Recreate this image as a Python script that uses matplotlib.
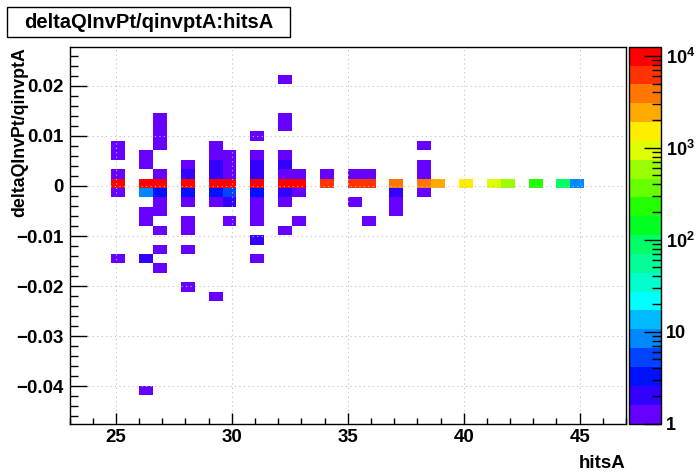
import numpy as np
import matplotlib.pyplot as plt
from matplotlib.colors import ListedColormap, LogNorm
from matplotlib.patches import Rectangle
from matplotlib.ticker import MultipleLocator, LogLocator, NullFormatter, FuncFormatter

plt.rcParams['font.family'] = ['Liberation Sans', 'DejaVu Sans']
plt.rcParams['font.weight'] = 'bold'
plt.rcParams['mathtext.fontset'] = 'custom'
plt.rcParams['mathtext.rm'] = 'Liberation Sans:bold'
plt.rcParams['mathtext.it'] = 'Liberation Sans:bold'
plt.rcParams['mathtext.bf'] = 'Liberation Sans:bold'

# filled cells of the 2D histogram: hitsA, deltaQInvPt/qinvptA, entries
hits = [25, 25, 25, 25, 25, 25,
        26, 26, 26, 26, 26, 26, 26, 26,
        27, 27, 27, 27, 27, 27, 27, 27, 27, 27, 27, 27,
        28, 28, 28, 28, 28, 28, 28, 28, 28,
        29, 29, 29, 29, 29, 29, 29, 29,
        30, 30, 30, 30, 30, 30, 30,
        31, 31, 31, 31, 31, 31, 31, 31, 31, 31, 31,
        32, 32, 32, 32, 32, 32, 32, 32, 32, 32,
        33, 33, 33, 33,
        34, 34,
        35, 35, 35,
        36, 36, 36,
        37, 37, 37, 37,
        38, 38, 38, 38, 38,
        39, 40, 41, 42, 43, 44, 45]
dqinv = [0.0081, 0.0062, 0.0024, 0.0005, -0.0013, -0.0145,
         0.0062, 0.0043, 0.0005, -0.0013, -0.0051, -0.0070, -0.0145, -0.0408,
         0.0138, 0.0118, 0.0099, 0.0081, 0.0024, 0.0005, -0.0013, -0.0032, -0.0051, -0.0089, -0.0126, -0.0164,
         0.0043, 0.0024, 0.0005, -0.0013, -0.0032, -0.0070, -0.0089, -0.0126, -0.0201,
         0.0081, 0.0062, 0.0043, 0.0024, 0.0005, -0.0013, -0.0032, -0.0220,
         0.0062, 0.0043, 0.0024, 0.0005, -0.0013, -0.0032, -0.0070,
         0.0099, 0.0062, 0.0043, 0.0024, 0.0005, -0.0013, -0.0032, -0.0051, -0.0070, -0.0107, -0.0145,
         0.0212, 0.0138, 0.0118, 0.0062, 0.0043, 0.0024, 0.0005, -0.0013, -0.0032, -0.0089,
         0.0024, 0.0005, -0.0013, -0.0070,
         0.0024, 0.0005,
         0.0024, 0.0005, -0.0032,
         0.0024, 0.0005, -0.0070,
         0.0005, -0.0013, -0.0032, -0.0051,
         0.0081, 0.0043, 0.0024, 0.0005, -0.0013,
         0.0005, 0.0005, 0.0005, 0.0005, 0.0005, 0.0005, 0.0005]
entries = [1, 1, 1, 10500, 1, 1,
           1, 1, 11000, 8, 1, 1, 2, 1,
           1, 1, 1, 1, 1, 11500, 3, 1, 1, 1, 1, 1,
           1, 2, 11000, 3, 1, 1, 1, 1, 1,
           1, 1, 2, 2, 11000, 3, 1, 1,
           1, 1, 1, 11000, 5, 2, 1,
           1, 1, 2, 2, 11000, 3, 1, 1, 1, 2, 1,
           1, 1, 1, 1, 2, 1, 10500, 2, 1, 1,
           1, 9500, 1, 1,
           1, 6000,
           1, 6500, 1,
           1, 6000, 1,
           4000, 2, 1, 1,
           1, 1, 1, 3800, 1,
           2400, 1500, 950, 600, 230, 90, 8]

palette = ['#6600ff', '#3300ff', '#0011ff', '#0044ff', '#0088ff',
           '#00bbff', '#00ffff', '#00ffcc', '#00ff99', '#00ff66',
           '#00ff22', '#22ff00', '#66ff00', '#99ff00', '#ddff00',
           '#ffee00', '#ffaa00', '#ff7700', '#ff3300', '#ff0000']

x_edges = np.round(np.linspace(23, 47, 41), 6)
y_edges = np.round(np.linspace(-0.0474, 0.0278, 41), 6)

fig = plt.figure(figsize=(6.96, 4.72), dpi=100)
ax = fig.add_axes([69.5 / 696, 48.5 / 472, 556.5 / 696, 376.8 / 472])
cax = fig.add_axes([629 / 696, 48.5 / 472, 32 / 696, 376.8 / 472])

cmap = ListedColormap(palette)
norm = LogNorm(vmin=1, vmax=12600)
h = ax.hist2d(hits, dqinv, bins=[x_edges, y_edges], weights=entries,
              cmap=cmap, norm=norm, cmin=1)

ax.set_xlim(23, 47)
ax.set_ylim(-0.0474, 0.0278)
ax.xaxis.set_major_locator(MultipleLocator(5))
ax.xaxis.set_minor_locator(MultipleLocator(1))
ax.yaxis.set_major_locator(MultipleLocator(0.01))
ax.yaxis.set_minor_locator(MultipleLocator(0.002))
ax.yaxis.set_major_formatter(FuncFormatter(lambda v, p: ('%g' % round(v, 4)).replace('-', '\u2212')))
ax.tick_params(which='both', direction='in', top=False, right=False, labelsize=13.5)
ax.tick_params(axis='y', which='major', length=12, width=1, pad=4)
ax.tick_params(axis='y', which='minor', length=6, width=1)
ax.tick_params(axis='x', which='major', length=8, width=1, pad=4)
ax.tick_params(axis='x', which='minor', length=4, width=1)
ax.grid(True, which='major', color='#c0c0c0', linestyle=(0, (1, 3)), linewidth=0.8, zorder=3)
ax.set_axisbelow(False)
for s in ax.spines.values():
    s.set_linewidth(1)

cb = fig.colorbar(h[3], cax=cax)
cb.set_ticks([1, 10, 100, 1000, 10000])
cb.set_ticklabels(['1', '10', '10$^{2}$', '10$^{3}$', '10$^{4}$'])
cax.yaxis.set_minor_locator(LogLocator(subs=range(2, 10)))
cax.yaxis.set_minor_formatter(NullFormatter())
cax.tick_params(which='major', direction='in', length=12, width=1, pad=3.5, labelsize=13)
cax.tick_params(which='minor', direction='in', length=6.5, width=1)
cb.outline.set_linewidth(1)

fig.patches.append(Rectangle((7 / 696, 1 - 37 / 472), 283 / 696, 30 / 472,
                             transform=fig.transFigure, facecolor='white',
                             edgecolor='black', linewidth=1))
fig.text(148.5 / 696, 1 - 22.5 / 472, 'deltaQInvPt/qinvptA:hitsA',
         ha='center', va='center', fontsize=14.5, weight='bold')
fig.text(20 / 696, 1 - 47 / 472, 'deltaQInvPt/qinvptA', rotation=90,
         ha='center', va='top', fontsize=12.8, weight='bold')
fig.text(626 / 696, 4 / 472, 'hitsA', ha='right', va='baseline',
         fontsize=13.5, weight='bold')

fig.savefig('out.png', dpi=100)
